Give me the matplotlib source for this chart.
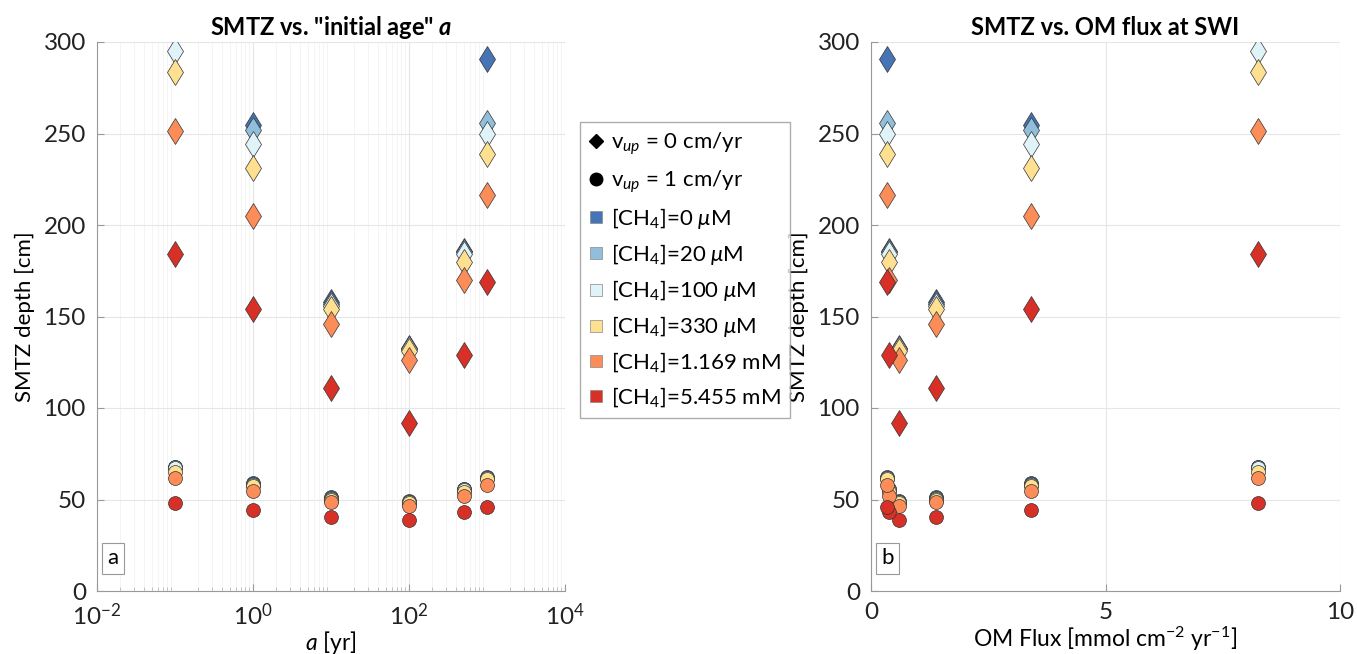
import numpy as np
import matplotlib
matplotlib.use("Agg")
import matplotlib.pyplot as plt
from matplotlib.lines import Line2D

plt.rcParams["font.family"] = ["Lato", "DejaVu Sans"]
plt.rcParams["mathtext.fontset"] = "custom"
plt.rcParams["mathtext.rm"] = "Lato"
plt.rcParams["mathtext.it"] = "Lato:italic"
plt.rcParams["mathtext.bf"] = "Lato:bold:italic"
plt.rcParams["font.size"] = 15

# initial age a [yr] and matching OM flux at SWI [mmol cm-2 yr-1]
alpha = [0.1, 1, 10, 100, 500, 1000]
om_flux = [8.25, 3.41, 1.39, 0.6, 0.38, 0.34]

ch4_labels = ["[CH$_4$]=0 $\\mu$M", "[CH$_4$]=20 $\\mu$M", "[CH$_4$]=100 $\\mu$M",
              "[CH$_4$]=330 $\\mu$M", "[CH$_4$]=1.169 mM", "[CH$_4$]=5.455 mM"]
colors = ["#4575b4", "#91bfdb", "#e0f3f8", "#fee090", "#fc8d59", "#d73027"]

# SMTZ depth [cm], v_up = 0 cm/yr (rows = CH4 levels, cols = alpha)
smtz_v0 = [
    [np.nan, 254.5, 158, 133, 186, 290.5],
    [np.nan, 252, 157, 132.5, 185, 255.5],
    [295, 244.5, 156, 132, 184, 249.5],
    [283.5, 231, 154, 131, 180, 239],
    [251.5, 205, 146, 126, 170, 216.5],
    [184, 154, 111, 92, 129, 169],
]
# SMTZ depth [cm], v_up = 1 cm/yr
smtz_v1 = [
    [68, 59, 51.5, 49, 56, 62.5],
    [67.5, 58.5, 51, 48.8, 55.5, 62],
    [67, 58, 50.5, 48.5, 55, 61.5],
    [65, 57.5, 50, 48, 54, 61],
    [61.5, 54.5, 48.5, 46.5, 52, 58],
    [48, 44, 40.5, 39, 43, 46],
]

W, H = 1357, 654
fig = plt.figure(figsize=(W / 100, H / 100), dpi=100)
ax1 = fig.add_axes([97 / W, 1 - 591 / H, 468 / W, 549 / H])
ax2 = fig.add_axes([871 / W, 1 - 591 / H, 469 / W, 549 / H])

edge = "#333333"
for ax, xs in [(ax1, alpha), (ax2, om_flux)]:
    for i in range(6):
        ax.plot(xs, smtz_v0[i], ls="none", marker="d", ms=13, mfc=colors[i],
                mec=edge, mew=0.5, zorder=3)
    for i in range(6):
        ax.plot(xs, smtz_v1[i], ls="none", marker="o", ms=10, mfc=colors[i],
                mec=edge, mew=0.5, zorder=3)

for ax in (ax1, ax2):
    ax.set_ylim(0, 300)
    ax.set_yticks(range(0, 301, 50))
    ax.set_ylabel("SMTZ depth [cm]", fontsize=16, labelpad=6)
    ax.spines["top"].set_visible(False)
    ax.spines["right"].set_visible(False)
    for s in ("left", "bottom"):
        ax.spines[s].set_color("#999999")
    ax.tick_params(direction="in", colors="#999999", labelcolor="#222222",
                   labelsize=17.5, length=5)
    ax.tick_params(axis="y", pad=8)
    ax.tick_params(axis="x", pad=8)
    ax.tick_params(which="minor", direction="in", colors="#bbbbbb", length=3)
    ax.grid(True, which="major", color="#e6e6e6", lw=0.8)
    ax.set_axisbelow(True)

ax1.set_xscale("log")
ax1.set_xlim(1e-2, 1e4)
ax1.set_xticks([1e-2, 1, 1e2, 1e4])
ax1.grid(True, which="minor", color="#f3f3f3", lw=0.6)
ax1.set_xlabel("$\\it{a}$ [yr]", fontsize=16.5, labelpad=0)
ax1.set_title("SMTZ vs. \"initial age\" $\\mathbf{a}$", fontsize=17,
              fontweight="bold", pad=5)

ax2.set_xlim(0, 10)
ax2.set_xticks([0, 5, 10])
ax2.set_xlabel("OM Flux [mmol cm$^{-2}$ yr$^{-1}$]", fontsize=16.5, labelpad=1)
ax2.set_title("SMTZ vs. OM flux at SWI", fontsize=17, fontweight="bold", pad=5)

for ax, lab in [(ax1, "a"), (ax2, "b")]:
    ax.text(0.022, 0.06, lab, transform=ax.transAxes, fontsize=16, va="center",
            bbox=dict(boxstyle="square,pad=0.25", fc="white", ec="#999999", lw=0.8))

handles = [Line2D([], [], ls="none", marker="D", ms=7, color="black"),
           Line2D([], [], ls="none", marker="o", ms=9, color="black")]
labels = ["v$_{up}$ = 0 cm/yr", "v$_{up}$ = 1 cm/yr"]
for i in range(6):
    handles.append(Line2D([], [], ls="none", marker="s", ms=9, mfc=colors[i],
                          mec="#888888", mew=0.5))
    labels.append(ch4_labels[i])
fig.legend(handles, labels, loc="upper left", bbox_to_anchor=(580 / W, 1 - 122 / H),
           fontsize=16, frameon=True, fancybox=False, edgecolor="#999999",
           handlelength=0.6, handletextpad=0.4, labelspacing=0.5, borderpad=0.4,
           borderaxespad=0)

fig.savefig("out.png", dpi=100)
